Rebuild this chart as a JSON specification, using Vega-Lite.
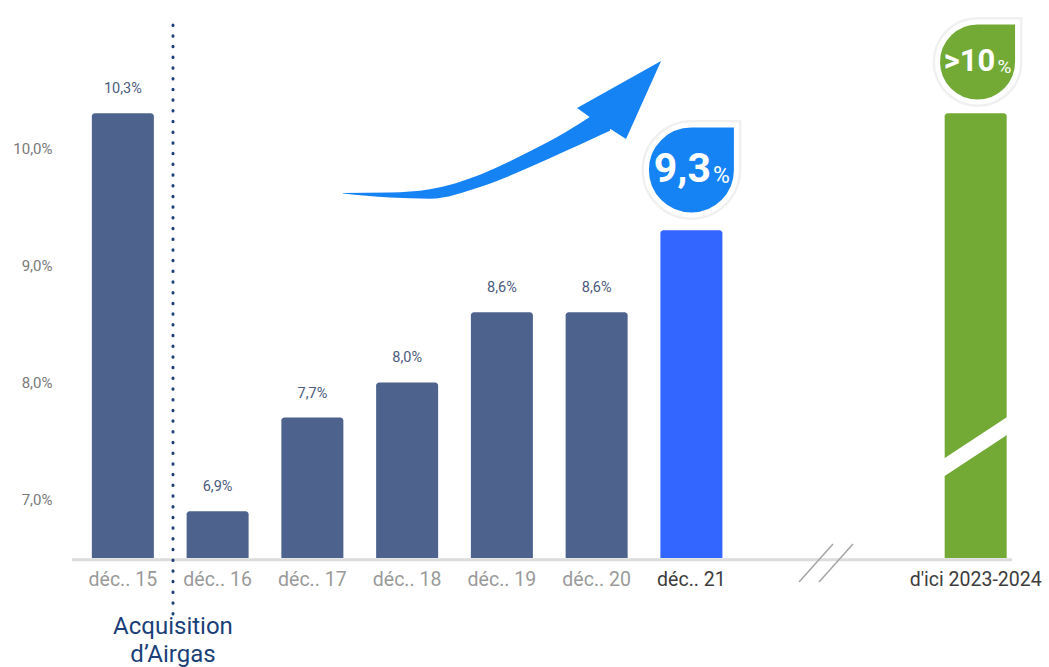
{
  "$schema": "https://vega.github.io/schema/vega-lite/v6.json",
  "width": 976,
  "height": 556,
  "autosize": {"type": "none"},
  "padding": {"left": 66, "top": 2, "right": 7, "bottom": 109},
  "background": "white",
  "config": {
    "view": {"stroke": null},
    "font": "Roboto",
    "axisY": {"grid": false, "domain": false, "ticks": false, "tickSize": 0, "labelPadding": 14, "labelFontSize": 15, "labelColor": "#7a7a7a", "labelFont": "Roboto", "titleOpacity": 0}
  },
  "datasets": {
    "bars": [
      {"i": 0, "cat": "déc.. 15", "v": 10.3, "grp": "hist", "lab": "10,3%"},
      {"i": 1, "cat": "déc.. 16", "v": 6.9, "grp": "hist", "lab": "6,9%"},
      {"i": 2, "cat": "déc.. 17", "v": 7.7, "grp": "hist", "lab": "7,7%"},
      {"i": 3, "cat": "déc.. 18", "v": 8.0, "grp": "hist", "lab": "8,0%"},
      {"i": 4, "cat": "déc.. 19", "v": 8.6, "grp": "hist", "lab": "8,6%"},
      {"i": 5, "cat": "déc.. 20", "v": 8.6, "grp": "hist", "lab": "8,6%"},
      {"i": 6, "cat": "déc.. 21", "v": 9.3, "grp": "cur", "lab": ""},
      {"i": 9, "cat": "d'ici 2023-2024", "v": 10.3, "grp": "target", "lab": ""}
    ],
    "baseline": [{"x": -0.537, "x2": 9.383, "y": 6.485}],
    "dotted": [{"x": 0.529, "y": 11.054, "y2": 6.013, "note": "Acquisition\nd’Airgas", "ty": 6.5}],
    "slash": [{"x": 8.581, "y": 7.229}, {"x": 9.436, "y": 7.684}],
    "breaks": [
      {"seg": "a", "x": 7.136, "y": 6.295}, {"seg": "a", "x": 7.494, "y": 6.619},
      {"seg": "b", "x": 7.347, "y": 6.295}, {"seg": "b", "x": 7.705, "y": 6.619}
    ],
    "arrow": [
      {"x": 2.323, "top": 9.618, "bot": 9.615},
      {"x": 2.819, "top": 9.622, "bot": 9.580},
      {"x": 3.241, "top": 9.650, "bot": 9.570},
      {"x": 3.769, "top": 9.775, "bot": 9.670},
      {"x": 4.297, "top": 9.975, "bot": 9.840},
      {"x": 4.666, "top": 10.135, "bot": 9.975},
      {"x": 4.951, "top": 10.280, "bot": 10.080},
      {"x": 5.141, "top": 10.390, "bot": 10.150}
    ],
    "head": [{"x": 5.247, "y": 10.413}],
    "badges": [
      {"x": 6, "y": 9.815, "main": "9,3", "pct": "%", "grp": "cur"},
      {"x": 9.02, "y": 10.737, "main": ">10", "pct": "%", "grp": "target"}
    ]
  },
  "layer": [
    {
      "data": {"name": "bars"},
      "mark": {"type": "bar", "size": 62, "cornerRadiusTopLeft": 3, "cornerRadiusTopRight": 3},
      "encoding": {
        "x": {"field": "i", "type": "quantitative", "scale": {"domain": [-0.6, 9.7], "nice": false, "zero": false, "padding": 0}, "axis": null},
        "y": {
          "field": "v", "type": "quantitative", "title": null,
          "scale": {"domain": [6.5, 11.25], "nice": false, "zero": false, "padding": 0},
          "axis": {"title": null, "values": [7, 8, 9, 10], "labelExpr": "replace(format(datum.value, '.1f'), '.', ',') + '%'"}
        },
        "y2": {"datum": 6.5},
        "color": {"field": "grp", "type": "nominal", "scale": {"domain": ["hist", "cur", "target"], "range": ["#4d638d", "#3366ff", "#72aa35"]}, "legend": null}
      }
    },
    {
      "data": {"name": "baseline"},
      "mark": {"type": "rule", "color": "#dcdcdc", "strokeWidth": 3},
      "encoding": {
        "x": {"field": "x", "type": "quantitative", "axis": null},
        "x2": {"field": "x2"},
        "y": {"field": "y", "type": "quantitative", "title": null, "axis": {"title": null, "values": [7, 8, 9, 10], "labelExpr": "replace(format(datum.value, '.1f'), '.', ',') + '%'"}}
      }
    },
    {
      "data": {"name": "bars"},
      "mark": {"type": "text", "fontSize": 14.5, "color": "#4d5b7c", "baseline": "middle", "dy": -24},
      "encoding": {
        "x": {"field": "i", "type": "quantitative", "axis": null},
        "y": {"field": "v", "type": "quantitative", "title": null, "axis": {"title": null, "values": [7, 8, 9, 10], "labelExpr": "replace(format(datum.value, '.1f'), '.', ',') + '%'"}},
        "text": {"field": "lab"}
      }
    },
    {
      "data": {"name": "bars"},
      "mark": {"type": "text", "fontSize": 19.5, "baseline": "middle", "dy": 22},
      "encoding": {
        "x": {"field": "i", "type": "quantitative", "axis": null},
        "y": {"datum": 6.5, "type": "quantitative", "title": null, "axis": {"title": null, "values": [7, 8, 9, 10], "labelExpr": "replace(format(datum.value, '.1f'), '.', ',') + '%'"}},
        "text": {"field": "cat"},
        "color": {"condition": {"test": "datum.grp !== 'hist'", "value": "#3d3d3d"}, "value": "#9a9a9a"}
      }
    },
    {
      "data": {"name": "dotted"},
      "mark": {"type": "rule", "color": "#1b3f77", "strokeWidth": 3, "strokeDash": [0.5, 10.2], "strokeCap": "round"},
      "encoding": {
        "x": {"field": "x", "type": "quantitative", "axis": null},
        "y": {"field": "y", "type": "quantitative", "title": null, "axis": {"title": null, "values": [7, 8, 9, 10], "labelExpr": "replace(format(datum.value, '.1f'), '.', ',') + '%'"}},
        "y2": {"field": "y2"}
      }
    },
    {
      "data": {"name": "dotted"},
      "mark": {"type": "text", "fontSize": 24, "color": "#1b3f77", "baseline": "middle", "dy": 69, "lineHeight": 28, "lineBreak": "\n", "align": "center"},
      "encoding": {
        "x": {"field": "x", "type": "quantitative", "axis": null},
        "y": {"field": "ty", "type": "quantitative", "title": null, "axis": {"title": null, "values": [7, 8, 9, 10], "labelExpr": "replace(format(datum.value, '.1f'), '.', ',') + '%'"}},
        "text": {"field": "note"}
      }
    },
    {
      "data": {"name": "slash"},
      "mark": {"type": "line", "color": "white", "strokeWidth": 15, "strokeCap": "butt"},
      "encoding": {
        "x": {"field": "x", "type": "quantitative", "axis": null},
        "y": {"field": "y", "type": "quantitative", "title": null, "axis": {"title": null, "values": [7, 8, 9, 10], "labelExpr": "replace(format(datum.value, '.1f'), '.', ',') + '%'"}}
      }
    },
    {
      "data": {"name": "breaks"},
      "mark": {"type": "line", "color": "#a8a8a8", "strokeWidth": 1.6},
      "encoding": {
        "x": {"field": "x", "type": "quantitative", "axis": null},
        "y": {"field": "y", "type": "quantitative", "title": null, "axis": {"title": null, "values": [7, 8, 9, 10], "labelExpr": "replace(format(datum.value, '.1f'), '.', ',') + '%'"}},
        "detail": {"field": "seg"}
      }
    },
    {
      "data": {"name": "arrow"},
      "mark": {"type": "area", "color": "#1683f5", "interpolate": "monotone"},
      "encoding": {
        "x": {"field": "x", "type": "quantitative", "axis": null},
        "y": {"field": "top", "type": "quantitative", "title": null, "axis": {"title": null, "values": [7, 8, 9, 10], "labelExpr": "replace(format(datum.value, '.1f'), '.', ',') + '%'"}},
        "y2": {"field": "bot"}
      }
    },
    {
      "data": {"name": "head"},
      "mark": {"type": "point", "filled": true, "opacity": 1, "color": "#1683f5", "size": 10000, "strokeWidth": 0,
        "shape": "M0.82,-0.78L-0.86,0.16L-0.58,0.36L-0.16,0.6L0.12,0.78Z"},
      "encoding": {
        "x": {"field": "x", "type": "quantitative", "axis": null},
        "y": {"field": "y", "type": "quantitative", "title": null, "axis": {"title": null, "values": [7, 8, 9, 10], "labelExpr": "replace(format(datum.value, '.1f'), '.', ',') + '%'"}}
      }
    },
    {
      "data": {"name": "badges"},
      "transform": [{"filter": "datum.grp === 'cur'"}],
      "mark": {"type": "point", "filled": true, "opacity": 0.06, "color": "#000000", "size": 10000, "strokeWidth": 0,
        "shape": "M-1,0A1,1,0,0,1,0,-1L1,-1L1,0A1,1,0,0,1,-1,0Z"},
      "encoding": {
        "x": {"field": "x", "type": "quantitative", "axis": null},
        "y": {"field": "y", "type": "quantitative", "title": null, "axis": {"title": null, "values": [7, 8, 9, 10], "labelExpr": "replace(format(datum.value, '.1f'), '.', ',') + '%'"}}
      }
    },
    {
      "data": {"name": "badges"},
      "transform": [{"filter": "datum.grp === 'target'"}],
      "mark": {"type": "point", "filled": true, "opacity": 0.06, "color": "#000000", "size": 8100, "strokeWidth": 0,
        "shape": "M-1,0A1,1,0,0,1,0,-1L1,-1L1,0A1,1,0,0,1,-1,0Z"},
      "encoding": {
        "x": {"field": "x", "type": "quantitative", "axis": null},
        "y": {"field": "y", "type": "quantitative", "title": null, "axis": {"title": null, "values": [7, 8, 9, 10], "labelExpr": "replace(format(datum.value, '.1f'), '.', ',') + '%'"}}
      }
    },
    {
      "data": {"name": "badges"},
      "transform": [{"filter": "datum.grp === 'cur'"}],
      "mark": {"type": "point", "filled": true, "opacity": 1, "fill": "#1683f5", "stroke": "white", "strokeWidth": 5, "size": 8100,
        "shape": "M-1,0A1,1,0,0,1,0,-1L1,-1L1,0A1,1,0,0,1,-1,0Z"},
      "encoding": {
        "x": {"field": "x", "type": "quantitative", "axis": null},
        "y": {"field": "y", "type": "quantitative", "title": null, "axis": {"title": null, "values": [7, 8, 9, 10], "labelExpr": "replace(format(datum.value, '.1f'), '.', ',') + '%'"}}
      }
    },
    {
      "data": {"name": "badges"},
      "transform": [{"filter": "datum.grp === 'target'"}],
      "mark": {"type": "point", "filled": true, "opacity": 1, "fill": "#72aa35", "stroke": "white", "strokeWidth": 5, "size": 6400,
        "shape": "M-1,0A1,1,0,0,1,0,-1L1,-1L1,0A1,1,0,0,1,-1,0Z"},
      "encoding": {
        "x": {"field": "x", "type": "quantitative", "axis": null},
        "y": {"field": "y", "type": "quantitative", "title": null, "axis": {"title": null, "values": [7, 8, 9, 10], "labelExpr": "replace(format(datum.value, '.1f'), '.', ',') + '%'"}}
      }
    },
    {
      "data": {"name": "badges"},
      "transform": [{"filter": "datum.grp === 'cur'"}],
      "mark": {"type": "text", "fontSize": 41, "fontWeight": "bold", "color": "white", "baseline": "middle", "dx": -9, "dy": 0},
      "encoding": {
        "x": {"field": "x", "type": "quantitative", "axis": null},
        "y": {"field": "y", "type": "quantitative", "title": null, "axis": {"title": null, "values": [7, 8, 9, 10], "labelExpr": "replace(format(datum.value, '.1f'), '.', ',') + '%'"}},
        "text": {"field": "main"}
      }
    },
    {
      "data": {"name": "badges"},
      "transform": [{"filter": "datum.grp === 'cur'"}],
      "mark": {"type": "text", "fontSize": 23, "color": "white", "baseline": "middle", "dx": 30, "dy": 6},
      "encoding": {
        "x": {"field": "x", "type": "quantitative", "axis": null},
        "y": {"field": "y", "type": "quantitative", "title": null, "axis": {"title": null, "values": [7, 8, 9, 10], "labelExpr": "replace(format(datum.value, '.1f'), '.', ',') + '%'"}},
        "text": {"field": "pct"}
      }
    },
    {
      "data": {"name": "badges"},
      "transform": [{"filter": "datum.grp === 'target'"}],
      "mark": {"type": "text", "fontSize": 31, "fontWeight": "bold", "color": "white", "baseline": "middle", "dx": -8, "dy": 0},
      "encoding": {
        "x": {"field": "x", "type": "quantitative", "axis": null},
        "y": {"field": "y", "type": "quantitative", "title": null, "axis": {"title": null, "values": [7, 8, 9, 10], "labelExpr": "replace(format(datum.value, '.1f'), '.', ',') + '%'"}},
        "text": {"field": "main"}
      }
    },
    {
      "data": {"name": "badges"},
      "transform": [{"filter": "datum.grp === 'target'"}],
      "mark": {"type": "text", "fontSize": 19, "color": "white", "baseline": "middle", "dx": 27, "dy": 5},
      "encoding": {
        "x": {"field": "x", "type": "quantitative", "axis": null},
        "y": {"field": "y", "type": "quantitative", "title": null, "axis": {"title": null, "values": [7, 8, 9, 10], "labelExpr": "replace(format(datum.value, '.1f'), '.', ',') + '%'"}},
        "text": {"field": "pct"}
      }
    }
  ]
}
